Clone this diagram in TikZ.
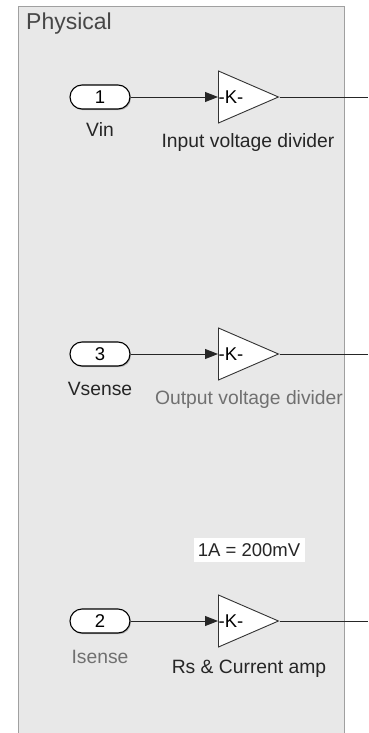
\documentclass[tikz,border=0pt]{standalone}
\usepackage{fontspec}
\setmainfont{Liberation Sans}
\usetikzlibrary{shapes.geometric,shapes.misc,arrows.meta,shadows}

\definecolor{areafill}{HTML}{E8E8E8}
\definecolor{arealine}{HTML}{A0A0A0}
\definecolor{labeltext}{HTML}{262626}
\definecolor{dimtext}{HTML}{707070}

\begin{document}
\begin{tikzpicture}[x=1pt, y=-1pt,
    portbox/.style={rounded rectangle, minimum width=60pt, minimum height=24pt, inner sep=0pt,
                    draw=black, line width=1.1pt, fill=white, font=\fontsize{18.5}{21}\selectfont,
                    drop shadow={shadow xshift=1pt, shadow yshift=-1.2pt, fill=black!45, opacity=0.6}},
    gainbox/.style={isosceles triangle, isosceles triangle stretches, shape border rotate=0,
                    minimum width=52pt, minimum height=60pt, inner sep=0pt,
                    draw=black!80, line width=0.9pt, fill=white},
    gaintext/.style={anchor=west, inner sep=0.5pt, font=\fontsize{18.5}{21}\selectfont},
    lbl/.style={font=\fontsize{19.3}{22}\selectfont, text=labeltext, inner sep=0pt},
    dimlbl/.style={lbl, text=dimtext},
    sig/.style={-{Triangle[length=13pt,width=10pt]}, line width=0.9pt, draw=black!85},
    outsig/.style={line width=0.9pt, draw=black!85}
]
\useasboundingbox (0,0) rectangle (368,733);
\clip (0,0) rectangle (368,733);

%% Area %%
\filldraw[fill=areafill, draw=arealine, line width=1pt] (18,7) rectangle (344,745);
\node[anchor=base west, inner sep=0pt, text=black!72, font=\fontsize{23}{26}\selectfont] (title) at (26,30) {Physical};

%% Inports %%
\node[portbox] (in1) at (100,97)  {1};
\node[portbox] (in3) at (100,354) {3};
\node[portbox] (in2) at (100,621) {2};

\node[lbl]    (vin)    at (100,130) {Vin};
\node[lbl]    (vsense) at (100,389) {Vsense};
\node[dimlbl] (isense) at (100,657) {Isense};

%% Gains %%
\node[gainbox, anchor=lower side] (g1) at (218,97)  {};
\node[gainbox, anchor=lower side] (g3) at (218,354) {};
\node[gainbox, anchor=lower side] (g2) at (218,621) {};
\node[gaintext] (k1) at (g1.lower side) {-K-};
\node[gaintext] (k3) at (g3.lower side) {-K-};
\node[gaintext] (k2) at (g2.lower side) {-K-};

\node[lbl]    (g1lbl) at (248,143) {Input voltage divider};
\node[dimlbl] (g3lbl) at (249,400) {Output voltage divider};
\node[lbl]    (g2lbl) at (249,669) {Rs \& Current amp};

% note
\node[fill=white, minimum width=111pt, minimum height=24pt, inner sep=0pt,
      font=\fontsize{18.5}{21}\selectfont, text=labeltext] (note) at (249,550) {1A = 200mV};

%% Signals %%
\coordinate (o1) at (368,97);
\coordinate (o3) at (368,354);
\coordinate (o2) at (368,621);

\draw[sig] (in1.east) -- (g1.lower side);
\draw[sig] (in3.east) -- (g3.lower side);
\draw[sig] (in2.east) -- (g2.lower side);

\draw[outsig] (g1.apex) -- (o1);
\draw[outsig] (g3.apex) -- (o3);
\draw[outsig] (g2.apex) -- (o2);

\end{tikzpicture}
\end{document}
